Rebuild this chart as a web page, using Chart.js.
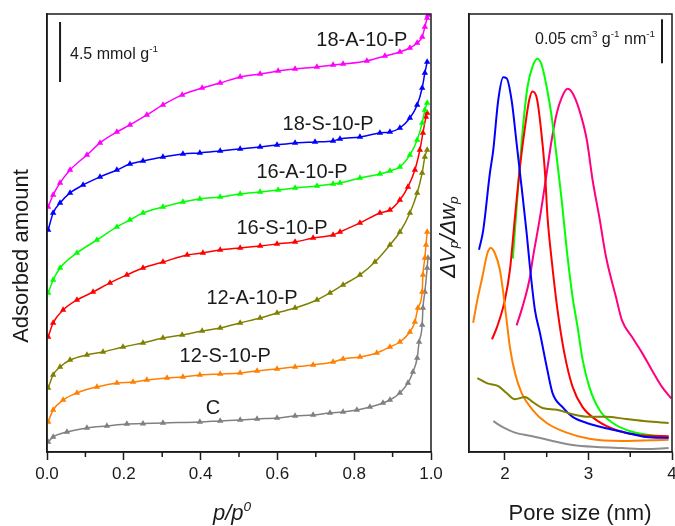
<!DOCTYPE html>
<html>
<head>
<meta charset="utf-8">
<script src="https://cdn.jsdelivr.net/npm/chart.js@4.4.1/dist/chart.umd.min.js"></script>
<style>
  html, body { margin: 0; padding: 0; background: #fff; width: 675px; height: 526px; overflow: hidden; }
  #iso { position: absolute; left: 0; top: 0; }
  #psd { position: absolute; left: 435px; top: 0; }
</style>
</head>
<body>
<canvas id="iso" width="450" height="526"></canvas>
<canvas id="psd" width="255" height="526"></canvas>
<script>
// ---- isotherms: p/p0 and adsorbed amount (mmol/g, curves offset) ----
const pA18 = [0.003,0.016,0.034,0.060,0.104,0.138,0.182,0.216,0.260,0.302,0.352,0.404,0.451,0.503,0.555,0.602,0.646,0.703,0.745,0.771,0.833,0.880,0.919,0.945,0.964,0.977,0.984,0.990,0.992];
const nA18 = [18.38,19.28,20.18,21.15,22.28,23.18,24.0,24.53,25.28,26.03,26.78,27.3,27.68,28.13,28.35,28.58,28.73,28.88,29.03,29.1,29.33,29.7,30.0,30.3,30.68,31.13,31.88,32.55,32.78];

const pS18 = [0.003,0.016,0.034,0.060,0.094,0.138,0.182,0.216,0.25,0.302,0.354,0.398,0.451,0.503,0.555,0.599,0.646,0.698,0.745,0.763,0.815,0.867,0.893,0.919,0.945,0.964,0.977,0.984,0.990];
const nS18 = [16.65,17.93,18.68,19.43,20.03,20.63,21.15,21.6,21.83,22.13,22.35,22.43,22.58,22.73,22.88,23.03,23.18,23.25,23.33,23.48,23.63,23.93,24.0,24.3,25.05,26.03,27.3,28.43,29.25];

const pA16 = [0.003,0.016,0.034,0.078,0.130,0.182,0.216,0.25,0.302,0.354,0.398,0.451,0.503,0.555,0.602,0.646,0.703,0.745,0.763,0.815,0.867,0.893,0.919,0.945,0.964,0.977,0.984,0.990];
const nA16 = [11.93,12.9,13.8,14.93,15.9,16.88,17.4,17.93,18.38,18.75,18.98,19.13,19.35,19.5,19.65,19.8,19.95,20.1,20.18,20.55,20.85,21.08,21.38,22.28,23.4,24.68,25.65,26.18];

const pS16 = [0.003,0.016,0.042,0.078,0.120,0.164,0.208,0.25,0.302,0.365,0.406,0.451,0.503,0.555,0.599,0.646,0.693,0.745,0.763,0.815,0.867,0.893,0.919,0.940,0.958,0.971,0.979,0.987,0.990];
const nS16 = [8.63,9.68,10.65,11.4,12.0,12.68,13.28,13.8,14.25,14.78,14.93,15.15,15.3,15.45,15.6,15.75,16.05,16.28,16.5,17.18,17.93,18.15,18.9,19.88,21.15,22.65,23.93,25.13,25.43];

const pA12 = [0.003,0.016,0.034,0.060,0.104,0.146,0.198,0.25,0.302,0.352,0.404,0.451,0.503,0.555,0.599,0.646,0.703,0.737,0.771,0.815,0.854,0.893,0.919,0.945,0.964,0.977,0.984,0.990];
const nA12 = [4.8,5.78,6.38,6.9,7.28,7.5,7.88,8.18,8.55,8.78,9.08,9.3,9.68,10.05,10.43,10.8,11.4,11.93,12.53,13.28,14.25,15.53,16.5,17.93,19.43,20.93,22.13,22.65];

const pS12 = [0.003,0.016,0.042,0.078,0.130,0.182,0.224,0.260,0.3125,0.354,0.398,0.451,0.503,0.547,0.599,0.646,0.693,0.745,0.771,0.815,0.859,0.893,0.919,0.945,0.958,0.966,0.977,0.979,0.984,0.987,0.990];
const nS12 = [2.25,3.15,3.9,4.43,4.88,5.18,5.25,5.4,5.55,5.63,5.78,5.85,5.93,6.08,6.23,6.38,6.53,6.75,6.98,7.13,7.43,7.88,8.25,9.0,9.75,10.8,12.0,13.28,14.55,15.53,16.5];

const pC = [0.003,0.016,0.052,0.104,0.156,0.208,0.25,0.302,0.398,0.451,0.503,0.547,0.599,0.646,0.693,0.737,0.771,0.807,0.841,0.875,0.893,0.919,0.940,0.953,0.964,0.969,0.977,0.979,0.984,0.990,0.992];
const nC = [0.75,1.13,1.5,1.8,1.95,2.1,2.13,2.18,2.25,2.33,2.4,2.48,2.55,2.7,2.78,2.93,3.0,3.15,3.38,3.68,3.9,4.43,5.18,6.0,7.05,8.25,9.53,10.8,12.0,13.8,14.55];

const isoNames = ['18-A-10-P','18-S-10-P','16-A-10-P','16-S-10-P','12-A-10-P','12-S-10-P','C'];
const isoP = [pA18,pS18,pA16,pS16,pA12,pS12,pC];
const isoN = [nA18,nS18,nA16,nS16,nA12,nS12,nC];
const isoColors = ['#ff00ff','#0000ff','#00ff00','#ff0000','#808000','#ff8000','#808080'];
// where each sample name sits (p/p0, amount)
const labelP = [0.820,0.732,0.664,0.612,0.534,0.464,0.432];
const labelN = [30.9,24.53,21.0,16.8,11.55,7.13,3.3];
const isoTicks = [0,0.2,0.4,0.6,0.8,1.0];
const isoMinor = [0.1,0.3,0.5,0.7,0.9];

// ---- pore size distributions: width (nm) and dVp/dwp (cm3 g-1 nm-1, offset) ----
const wBlue = [1.69,1.74,1.82,1.86,1.92,1.98,2.02,2.08,2.14,2.20,2.26,2.30,2.36,2.42,2.50,2.57,2.69,2.81,2.98,3.21,3.45,3.69,3.96];
const vBlue = [0.230,0.252,0.317,0.343,0.400,0.426,0.425,0.400,0.351,0.301,0.249,0.210,0.161,0.135,0.097,0.067,0.051,0.040,0.033,0.027,0.022,0.017,0.016];
const wGreen = [2.095,2.14,2.21,2.27,2.33,2.39,2.44,2.50,2.56,2.62,2.68,2.74,2.81,2.87,2.93,3.01,3.13,3.29,3.52,3.76,3.96];
const vGreen = [0.220,0.278,0.363,0.415,0.438,0.447,0.440,0.415,0.381,0.335,0.286,0.230,0.176,0.142,0.105,0.074,0.048,0.033,0.023,0.019,0.017];
const wRed = [1.845,1.905,2.0,2.06,2.12,2.18,2.24,2.29,2.33,2.38,2.42,2.48,2.51,2.56,2.63,2.71,2.81,2.93,3.10,3.33,3.61,3.96];
const vRed = [0.128,0.142,0.173,0.207,0.267,0.324,0.369,0.400,0.410,0.403,0.377,0.317,0.267,0.218,0.161,0.113,0.074,0.051,0.036,0.025,0.019,0.018];
const wPink = [2.14,2.21,2.30,2.33,2.42,2.50,2.56,2.62,2.68,2.75,2.81,2.89,2.98,3.05,3.13,3.21,3.33,3.40,3.52,3.64,3.76,3.88,3.99];
const vPink = [0.144,0.165,0.199,0.218,0.267,0.317,0.355,0.385,0.403,0.413,0.408,0.389,0.355,0.309,0.267,0.222,0.176,0.150,0.131,0.113,0.093,0.074,0.061];
const wOrange = [1.62,1.67,1.73,1.79,1.83,1.88,1.94,1.98,2.02,2.06,2.12,2.20,2.33,2.50,2.74,3.01,3.40,3.96];
const vOrange = [0.147,0.173,0.199,0.226,0.232,0.226,0.207,0.181,0.150,0.119,0.090,0.067,0.048,0.033,0.022,0.015,0.0125,0.014];
const wOlive = [1.67,1.79,1.92,2.02,2.12,2.24,2.33,2.45,2.62,2.81,3.01,3.21,3.45,3.69,3.96];
const vOlive = [0.084,0.078,0.075,0.067,0.060,0.0625,0.057,0.050,0.048,0.043,0.040,0.040,0.0375,0.035,0.033];
const wGray = [1.86,1.98,2.12,2.33,2.57,2.81,3.10,3.40,3.69,3.96];
const vGray = [0.035,0.028,0.022,0.018,0.0125,0.008,0.0057,0.0045,0.0034,0.0045];

const psdW = [wGray,wOlive,wOrange,wBlue,wRed,wGreen,wPink];
const psdV = [vGray,vOlive,vOrange,vBlue,vRed,vGreen,vPink];
const psdColors = ['#8c8c8c','#808000','#ff8000','#0000ff','#ff0000','#00ff00','#ff0080'];
const psdTicks = [2,3,4];
const psdMinor = [2.5,3.5];

const FONT = 'Arial, "Liberation Sans", sans-serif';
const INK = '#1a1a1a';

function xy(xs, ys) { return xs.map((x, i) => ({ x: x, y: ys[i] })); }

// text with sup/sub pieces, left aligned on a baseline
function rich(ctx, parts, x, y, size, style) {
  style = style || '';
  let cx = x;
  parts.forEach(pt => {
    const s = pt.sup || pt.sub ? size * 0.62 : size;
    ctx.font = style + ' ' + s + 'px ' + FONT;
    const dy = pt.sup ? -size * 0.42 : (pt.sub ? size * 0.22 : 0);
    ctx.fillText(pt.t, cx, y + dy);
    cx += ctx.measureText(pt.t).width;
  });
  return cx - x;
}
function richWidth(ctx, parts, size, style) {
  let w = 0;
  parts.forEach(pt => {
    const s = pt.sup || pt.sub ? size * 0.62 : size;
    ctx.font = (style || '') + ' ' + s + 'px ' + FONT;
    w += ctx.measureText(pt.t).width;
  });
  return w;
}

function frameAndMinor(chart, minor) {
  const ctx = chart.ctx, a = chart.chartArea, xs = chart.scales.x;
  ctx.save();
  ctx.strokeStyle = INK;
  ctx.lineWidth = 1.5;
  ctx.strokeRect(a.left, a.top, a.right - a.left, a.bottom - a.top);
  minor.forEach(v => {
    const px = xs.getPixelForValue(v);
    ctx.beginPath();
    ctx.moveTo(px, a.bottom);
    ctx.lineTo(px, a.bottom + 5);
    ctx.stroke();
  });
  ctx.restore();
}

const isoDeco = {
  id: 'isoDeco',
  afterDraw(chart) {
    frameAndMinor(chart, isoMinor);
    const ctx = chart.ctx, xs = chart.scales.x, ys = chart.scales.y;
    ctx.save();
    ctx.fillStyle = INK;
    ctx.textAlign = 'center';
    ctx.textBaseline = 'middle';
    ctx.font = '20px ' + FONT;
    isoNames.forEach((n, i) => ctx.fillText(n, xs.getPixelForValue(labelP[i]), ys.getPixelForValue(labelN[i])));

    // scale bar 4.5 mmol/g
    const bx = xs.getPixelForValue(0.034);
    ctx.strokeStyle = INK;
    ctx.lineWidth = 2;
    ctx.beginPath();
    ctx.moveTo(bx, ys.getPixelForValue(32.25));
    ctx.lineTo(bx, ys.getPixelForValue(32.25 - 4.5));
    ctx.stroke();
    ctx.textAlign = 'left';
    ctx.textBaseline = 'alphabetic';
    rich(ctx, [{ t: '4.5 mmol g' }, { t: '-1', sup: true }], 70, 59, 16);

    // axis titles
    ctx.save();
    ctx.translate(22, 256);
    ctx.rotate(-Math.PI / 2);
    ctx.textAlign = 'center';
    ctx.textBaseline = 'middle';
    ctx.font = '22px ' + FONT;
    ctx.fillText('Adsorbed amount', 0, 0);
    ctx.restore();

    const tp = [{ t: 'p/p' }, { t: '0', sup: true }];
    const tw = richWidth(ctx, tp, 22, 'italic');
    rich(ctx, tp, 232 - tw / 2, 520, 22, 'italic');
    ctx.restore();
  }
};

const psdDeco = {
  id: 'psdDeco',
  afterDraw(chart) {
    frameAndMinor(chart, psdMinor);
    const ctx = chart.ctx, xs = chart.scales.x, ys = chart.scales.y;
    ctx.save();
    ctx.fillStyle = INK;
    ctx.strokeStyle = INK;
    ctx.lineWidth = 2;
    // scale bar 0.05 cm3 g-1 nm-1
    const bx = xs.getPixelForValue(3.88);
    ctx.beginPath();
    ctx.moveTo(bx, ys.getPixelForValue(0.492));
    ctx.lineTo(bx, ys.getPixelForValue(0.442));
    ctx.stroke();
    ctx.textAlign = 'left';
    ctx.textBaseline = 'alphabetic';
    rich(ctx, [{ t: '0.05 cm' }, { t: '3', sup: true }, { t: ' g' }, { t: '-1', sup: true }, { t: ' nm' }, { t: '-1', sup: true }], 100, 44, 16);

    // axis titles
    ctx.font = '22px ' + FONT;
    ctx.textAlign = 'center';
    ctx.fillText('Pore size (nm)', 145, 520);

    const yt = [{ t: '\u0394V' }, { t: 'p', sub: true }, { t: '/\u0394w' }, { t: 'p', sub: true }];
    ctx.save();
    ctx.translate(14, 237);
    ctx.rotate(-Math.PI / 2);
    ctx.textAlign = 'left';
    ctx.textBaseline = 'middle';
    const w = richWidth(ctx, yt, 22, 'italic');
    rich(ctx, yt, -w / 2, 0, 22, 'italic');
    ctx.restore();
    ctx.restore();
  }
};

function xAxis(min, max, ticks, labelFmt, height) {
  return {
    type: 'linear', min: min, max: max,
    afterBuildTicks: s => { s.ticks = ticks.map(v => ({ value: v })); },
    ticks: { callback: labelFmt, font: { size: 17, family: FONT }, color: INK, padding: 4, maxRotation: 0, autoSkip: false },
    grid: { drawOnChartArea: false, drawTicks: true, tickLength: 8, tickColor: INK, tickWidth: 1.5 },
    border: { color: INK, width: 1.5 },
    afterFit: s => { s.height = height; }
  };
}
function yAxis(max, width) {
  return {
    type: 'linear', min: 0, max: max,
    ticks: { display: false },
    grid: { display: false },
    border: { color: INK, width: 1.5 },
    afterFit: s => { s.width = width; }
  };
}

new Chart(document.getElementById('iso'), {
  type: 'line',
  data: {
    datasets: isoNames.map((n, i) => ({
      label: n,
      data: xy(isoP[i], isoN[i]),
      borderColor: isoColors[i],
      backgroundColor: isoColors[i],
      borderWidth: 1.5,
      pointStyle: 'triangle',
      pointRadius: 3.7,
      pointBorderWidth: 0,
      cubicInterpolationMode: 'monotone',
      tension: 0.3
    }))
  },
  options: {
    responsive: false,
    animation: false,
    parsing: false,
    layout: { padding: { top: 14, right: 19, left: 0, bottom: 0 } },
    plugins: { legend: { display: false }, tooltip: { enabled: false } },
    scales: {
      x: xAxis(0, 1, isoTicks, v => v.toFixed(1), 74),
      y: yAxis(32.85, 47)
    }
  },
  plugins: [isoDeco]
});

new Chart(document.getElementById('psd'), {
  type: 'line',
  data: {
    datasets: psdW.map((w, i) => ({
      data: xy(w, psdV[i]),
      borderColor: psdColors[i],
      borderWidth: 2,
      pointRadius: 0,
      cubicInterpolationMode: 'monotone',
      tension: 0.4
    }))
  },
  options: {
    responsive: false,
    animation: false,
    parsing: false,
    layout: { padding: { top: 14, right: 18, left: 0, bottom: 0 } },
    plugins: { legend: { display: false }, tooltip: { enabled: false } },
    scales: {
      x: xAxis(1.57, 4, psdTicks, v => String(v), 74),
      y: yAxis(0.498, 34)
    }
  },
  plugins: [psdDeco]
});
</script>
</body>
</html>
